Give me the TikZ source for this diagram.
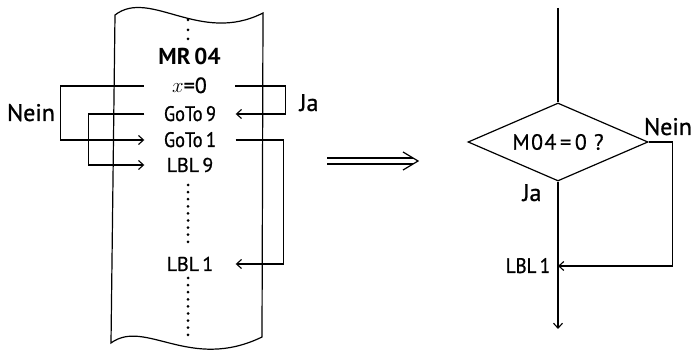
\documentclass[tikz,border=0pt]{standalone}
\usepackage{fontspec}
\setmainfont{PT Sans}
\newfontfamily\medfont{PT Sans}[FakeBold=0.9]
\newfontfamily\narrowfont{PT Sans}[FakeBold=0.9, FakeStretch=0.87]
\newfontfamily\semifont{PT Sans}[FakeBold=1.0, FakeStretch=0.9]
\newfontfamily\widefont{PT Sans}[FakeBold=0.6, LetterSpace=6]
\newfontfamily\heavyfont{PT Sans Bold}
\usetikzlibrary{shapes.geometric,arrows.meta}
\begin{document}
\begin{tikzpicture}[x=1pt,y=-1pt,
  ln/.style={line width=1.2pt},
  arr/.style={ln,-{Straight Barb[length=5pt,width=9pt,line width=1.1pt]}},
  tapetext/.style={font=\fontsize{20}{22}\medfont, minimum width=91pt, inner sep=0pt, text height=14pt, text depth=0pt},
  gototext/.style={tapetext, font=\fontsize{21}{22}\narrowfont},
  lab/.style={font=\fontsize{24}{26}\medfont, inner sep=0pt, text height=16pt, text depth=0pt},
  smalllab/.style={font=\fontsize{21}{23}\semifont, inner sep=0pt, text height=14pt, text depth=0pt}]
\useasboundingbox (0,0) rectangle (693,352);

% paper tape
\draw[ln] (115,15) .. controls (150,-12) and (200,45) .. (263,13) -- (262,337)
  .. controls (190,372) and (145,318) .. (111,343) -- cycle;

% dots
\foreach \y in {20,30,39} \fill (188,\y) circle (1.5);
\foreach \i in {0,...,8} \fill (188,{185+\i*7.1}) circle (1.5);
\foreach \i in {0,...,8} \fill (188,{278+\i*7.1}) circle (1.5);

% tape content
\node[tapetext, font=\fontsize{23}{24}\heavyfont] (mr) at (189.5,58) {MR\,04};
\node[tapetext, font=\fontsize{22}{24}\medfont] (xeq) at (189.5,86) {$x$=0};
\node[gototext] (g9) at (190,114) {GoTo\,9};
\node[gototext] (g1) at (190,140) {GoTo\,1};
\node[tapetext] (l9) at (190,165) {LBL\,9};
\node[tapetext] (l1) at (190,264) {LBL\,1};

\node[lab] (neinL) at (31,113) {Nein};
\node[lab] (jaL) at (309,103) {Ja};

% jumps
\draw[arr] (xeq.west) -- ++(-83,0) |- (g1.west);
\draw[arr] (g9.west) -- ++(-56,0) |- (l9.west);
\draw[arr] (xeq.east) -- ++(50,0) |- (g9.east);
\draw[arr] (g1.east) -- ++(48,0) |- (l1.east);

% double arrow
\draw[ln] (327,158) -- (413,158);
\draw[ln] (327,164) -- (413,164);
\draw[ln] (403,152) -- (418,161) -- (403,170);

% flow chart
\coordinate (top) at (558,8);
\node[diamond, draw, ln, aspect=2.25, minimum width=180pt, minimum height=78pt,
  inner sep=0pt, font=\fontsize{22}{24}\widefont] (d) at (558,142) {M04\,=\,0 ?};
\draw[ln] (top) -- (d.north);
\node[lab] (neinR) at (668,127) {Nein};
\node[lab] (jaR) at (532,193) {Ja};
\node[smalllab] (l1R) at (528,266) {LBL\,1};
\coordinate (join) at (558,266);
\coordinate (bottom) at (558,329);
\draw[arr] (d.east) -- ++(24,0) |- (join);
\draw[arr] (d.south) -- (bottom);
\end{tikzpicture}
\end{document}
